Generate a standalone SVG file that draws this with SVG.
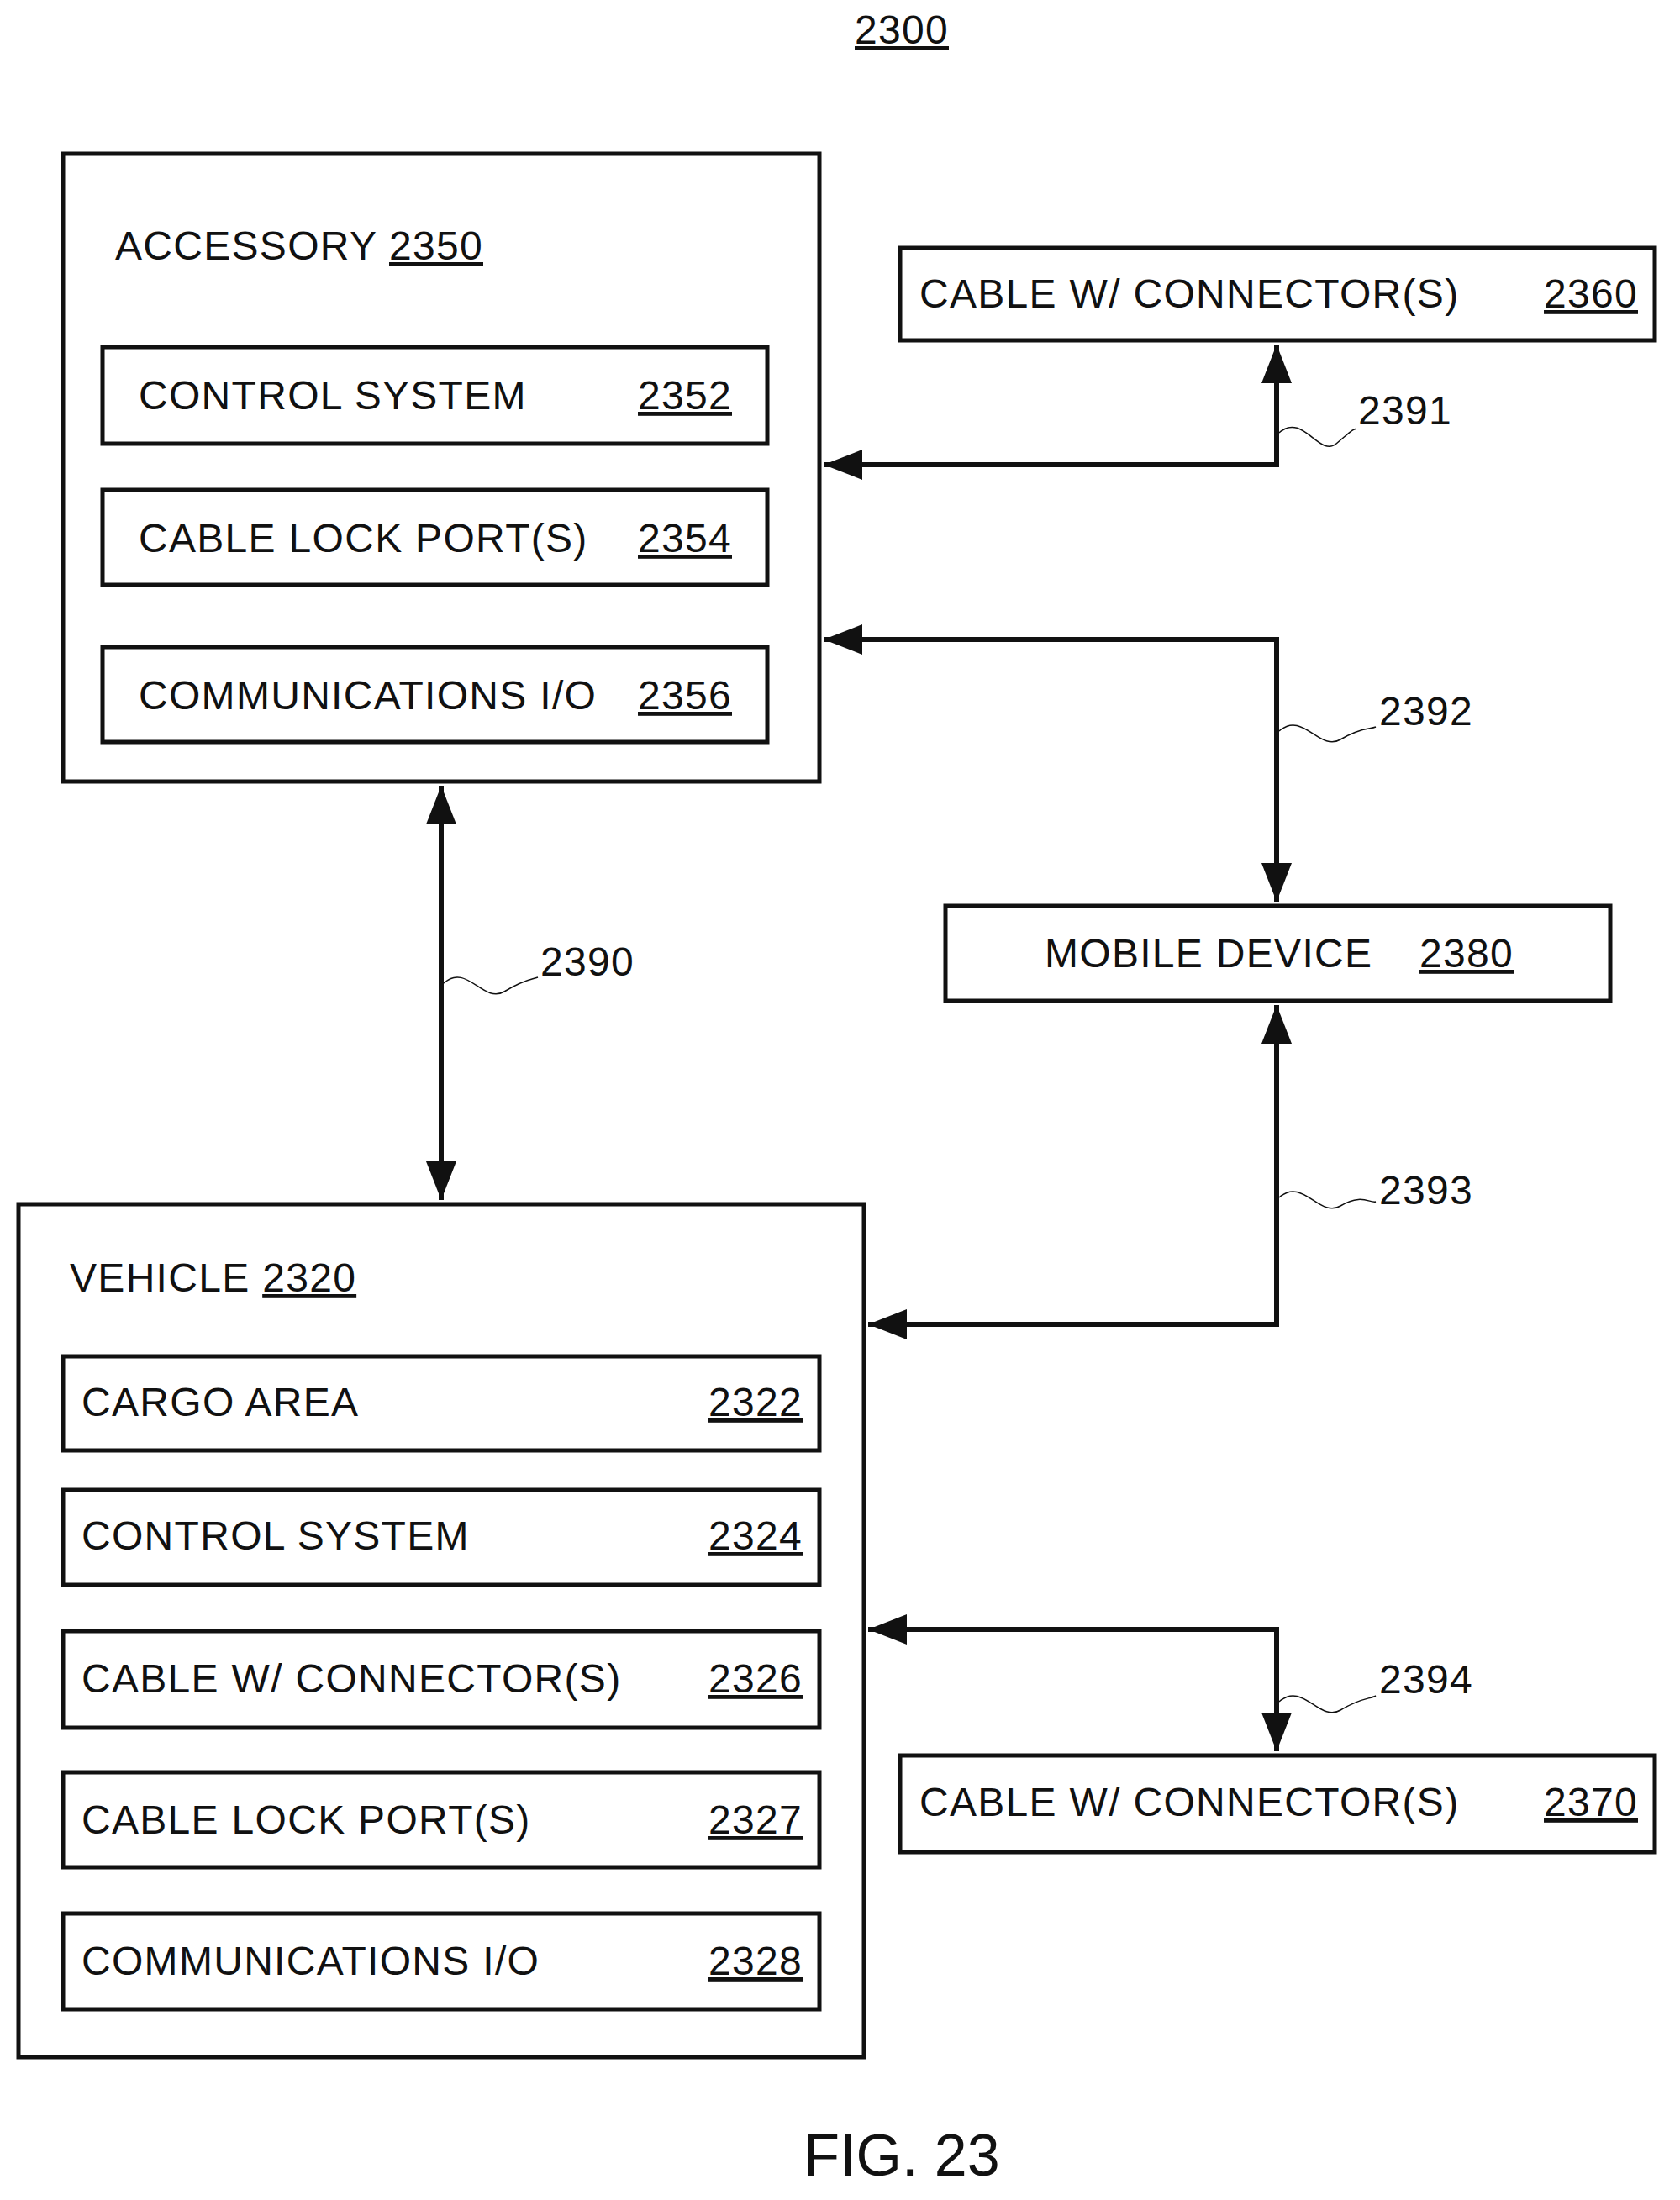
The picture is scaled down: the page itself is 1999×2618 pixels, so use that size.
<svg xmlns="http://www.w3.org/2000/svg" width="1999" height="2618" viewBox="0 0 1999 2618">
<style>
text{font-family:"Liberation Sans",Arial,sans-serif;font-size:48px;letter-spacing:1.3px;fill:#111}
.u{text-decoration:underline}
.b{fill:#fff;stroke:#111;stroke-width:5}
.c{fill:none;stroke:#111;stroke-width:6}
.s{fill:none;stroke:#111;stroke-width:1.5}
</style>
<defs>
<marker id="a" markerUnits="userSpaceOnUse" markerWidth="48" markerHeight="36" refX="46" refY="18" orient="auto-start-reverse">
<path d="M0,0 L46,18 L0,36 Z" fill="#111"/>
</marker>
</defs>
<rect width="1999" height="2618" fill="#fff"/>
<text x="1073" y="52" text-anchor="middle" class="u">2300</text>
<g id="accessory">
<rect class="b" x="75" y="183" width="900" height="747"/>
<text x="137" y="309">ACCESSORY <tspan class="u">2350</tspan></text>
</g>
<g id="n2352"><rect class="b" x="122" y="413" width="791" height="115"/><text x="165" y="487">CONTROL SYSTEM</text><text x="871" y="487" text-anchor="end" class="u">2352</text></g>
<g id="n2354"><rect class="b" x="122" y="583" width="791" height="113"/><text x="165" y="657">CABLE LOCK PORT(S)</text><text x="871" y="657" text-anchor="end" class="u">2354</text></g>
<g id="n2356"><rect class="b" x="122" y="770" width="791" height="113"/><text x="165" y="844">COMMUNICATIONS I/O</text><text x="871" y="844" text-anchor="end" class="u">2356</text></g>
<g id="n2360"><rect class="b" x="1071" y="295" width="898" height="110"/><text x="1094" y="366">CABLE W/ CONNECTOR(S)</text><text x="1949" y="366" text-anchor="end" class="u">2360</text></g>
<g id="n2380"><rect class="b" x="1125" y="1078" width="791" height="113"/><text x="1243" y="1151">MOBILE DEVICE</text><text x="1801" y="1151" text-anchor="end" class="u">2380</text></g>
<g id="vehicle">
<rect class="b" x="22" y="1433" width="1006" height="1015"/>
<text x="83" y="1537">VEHICLE <tspan class="u">2320</tspan></text>
</g>
<g id="n2322"><rect class="b" x="75" y="1614" width="900" height="112"/><text x="97" y="1685">CARGO AREA</text><text x="955" y="1685" text-anchor="end" class="u">2322</text></g>
<g id="n2324"><rect class="b" x="75" y="1773" width="900" height="113"/><text x="97" y="1844">CONTROL SYSTEM</text><text x="955" y="1844" text-anchor="end" class="u">2324</text></g>
<g id="n2326"><rect class="b" x="75" y="1941" width="900" height="115"/><text x="97" y="2014">CABLE W/ CONNECTOR(S)</text><text x="955" y="2014" text-anchor="end" class="u">2326</text></g>
<g id="n2327"><rect class="b" x="75" y="2109" width="900" height="113"/><text x="97" y="2182">CABLE LOCK PORT(S)</text><text x="955" y="2182" text-anchor="end" class="u">2327</text></g>
<g id="n2328"><rect class="b" x="75" y="2277" width="900" height="114"/><text x="97" y="2350">COMMUNICATIONS I/O</text><text x="955" y="2350" text-anchor="end" class="u">2328</text></g>
<g id="n2370"><rect class="b" x="1071" y="2089" width="898" height="115"/><text x="1094" y="2161">CABLE W/ CONNECTOR(S)</text><text x="1949" y="2161" text-anchor="end" class="u">2370</text></g>
<g id="connectors">
<path class="c" d="M980,553 H1519 V410" marker-start="url(#a)" marker-end="url(#a)"/>
<path class="c" d="M980,761 H1519 V1073" marker-start="url(#a)" marker-end="url(#a)"/>
<path class="c" d="M525,935 V1428" marker-start="url(#a)" marker-end="url(#a)"/>
<path class="c" d="M1033,1576 H1519 V1196" marker-start="url(#a)" marker-end="url(#a)"/>
<path class="c" d="M1033,1939 H1519 V2084" marker-start="url(#a)" marker-end="url(#a)"/>
<path class="s" d="M1522,515 C1550,490 1570,545 1590,528 S1608,512 1614,510"/>
<path class="s" d="M1522,870 C1550,845 1570,895 1595,880 S1630,868 1637,865"/>
<path class="s" d="M528,1170 C555,1145 575,1195 600,1180 S632,1166 640,1163"/>
<path class="s" d="M1522,1425 C1550,1400 1570,1450 1595,1435 S1630,1432 1637,1430"/>
<path class="s" d="M1522,2025 C1550,2000 1570,2050 1595,2035 S1630,2022 1637,2018"/>
<text x="1616" y="505">2391</text>
<text x="1641" y="863">2392</text>
<text x="643" y="1161">2390</text>
<text x="1641" y="1433">2393</text>
<text x="1641" y="2015">2394</text>
</g>
<text x="1073" y="2589" text-anchor="middle" style="font-size:70px;letter-spacing:0">FIG. 23</text>
</svg>
